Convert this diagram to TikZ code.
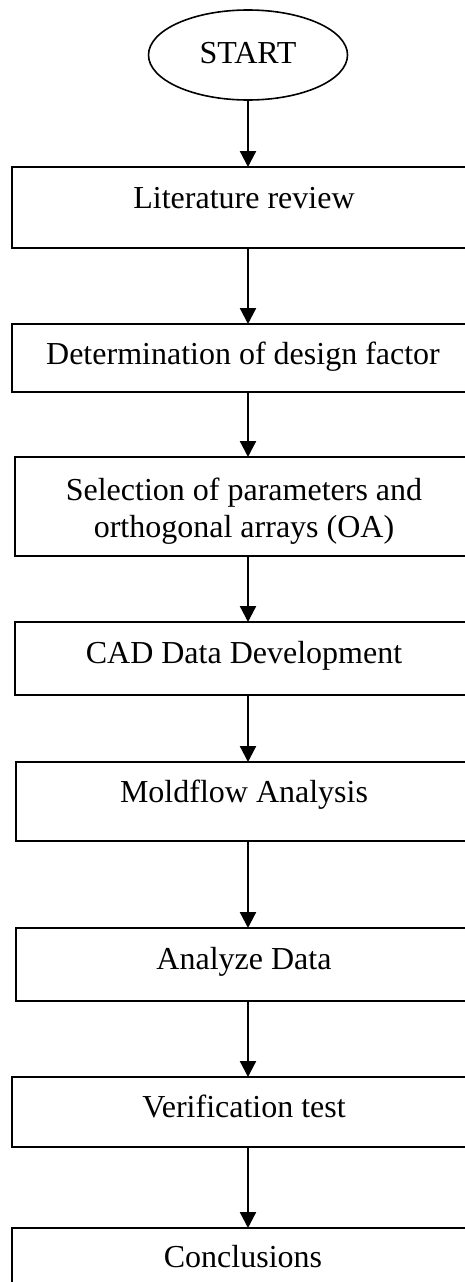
\documentclass[tikz,border=0pt]{standalone}
\usepackage{fontspec}
\setmainfont{Liberation Serif}
\usetikzlibrary{arrows.meta,shapes.geometric}
\tikzset{
  stepbox/.style={draw, line width=2pt, rectangle, inner sep=0pt, outer sep=0pt, anchor=north west},
  startnode/.style={draw, line width=1.6pt, ellipse, inner sep=0pt, outer sep=0pt, minimum width=199pt, minimum height=90pt},
  lbl/.style={anchor=base, inner sep=0pt, align=center},
  flow/.style={line width=2.3pt, -{Triangle[width=16pt,length=16pt]}}
}
\begin{document}
\begin{tikzpicture}[x=1pt,y=-1pt,font=\fontsize{32}{37}\selectfont]
\useasboundingbox (0,0) rectangle (465,1282);
\clip (0,0) rectangle (465,1282);
\node[startnode] (start) at (248,55) {};
\node[lbl] (tstart) at (248,63) {START};
\node[stepbox, minimum width=472pt, minimum height=81pt] (b1) at (12,167) {};
\node[lbl] (t1) at (244,208) {Literature review};
\node[stepbox, minimum width=472pt, minimum height=68pt] (b2) at (12,324) {};
\node[lbl] (t2) at (243,364) {Determination of design factor};
\node[stepbox, minimum width=466pt, minimum height=99pt] (b3) at (15,457) {};
\node[lbl] (t3) at (244,537) {Selection of parameters and\\orthogonal arrays (OA)};
\node[stepbox, minimum width=466pt, minimum height=73pt] (b4) at (15,622) {};
\node[lbl] (t4) at (244,663) {CAD Data Development};
\node[stepbox, minimum width=464pt, minimum height=79pt] (b5) at (16,762) {};
\node[lbl] (t5) at (244,802) {Moldflow Analysis};
\node[stepbox, minimum width=464pt, minimum height=73pt] (b6) at (16,928) {};
\node[lbl] (t6) at (244,969) {Analyze Data};
\node[stepbox, minimum width=472pt, minimum height=70pt] (b7) at (12,1077) {};
\node[lbl] (t7) at (244,1117) {Verification test};
\node[stepbox, minimum width=472pt, minimum height=90pt] (b8) at (12,1228) {};
\node[lbl] (t8) at (243,1267) {Conclusions};
\draw[flow] (start.south) -- (b1.north);
\draw[flow] (b1.south) -- (b2.north);
\draw[flow] (b2.south) -- (b3.north);
\draw[flow] (b3.south) -- (b4.north);
\draw[flow] (b4.south) -- (b5.north);
\draw[flow] (b5.south) -- (b6.north);
\draw[flow] (b6.south) -- (b7.north);
\draw[flow] (b7.south) -- (b8.north);
\end{tikzpicture}
\end{document}
